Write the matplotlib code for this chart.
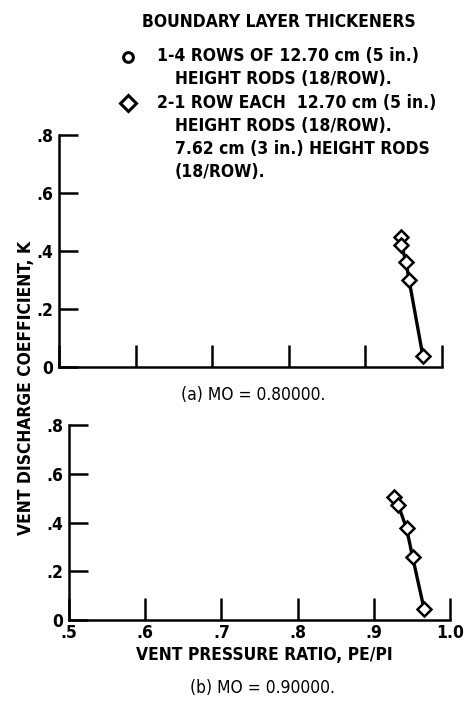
import matplotlib
matplotlib.use("Agg")
import matplotlib.pyplot as plt
from matplotlib.font_manager import FontProperties
from matplotlib.lines import Line2D

# ---- data -------------------------------------------------------------
# vent pressure ratio PE/PI and vent discharge coefficient K, config 2
pr_a = [0.946, 0.947, 0.953, 0.957, 0.975]
k_a = [0.449, 0.421, 0.363, 0.300, 0.038]

pr_b = [0.926, 0.932, 0.943, 0.951, 0.966]
k_b = [0.506, 0.472, 0.376, 0.257, 0.045]

x_ticks = [0.5, 0.6, 0.7, 0.8, 0.9, 1.0]
x_tick_labels = [".5", ".6", ".7", ".8", ".9", "1.0"]
y_ticks = [0.0, 0.2, 0.4, 0.6, 0.8]
y_tick_labels = ["0", ".2", ".4", ".6", ".8"]

legend_title = "BOUNDARY LAYER THICKENERS"
legend_1 = ["1-4 ROWS OF 12.70 cm (5 in.)", "HEIGHT RODS (18/ROW)."]
legend_2 = ["2-1 ROW EACH  12.70 cm (5 in.)", "HEIGHT RODS (18/ROW).",
            "7.62 cm (3 in.) HEIGHT RODS", "(18/ROW)."]
caption_a = "(a) MO = 0.80000."
caption_b = "(b) MO = 0.90000."
x_title = "VENT PRESSURE RATIO, PE/PI"
y_title = "VENT DISCHARGE COEFFICIENT, K"


# ---- fonts: condensed DejaVu faces ---------------------------------------
def bold_font(size):
    return FontProperties(family="DejaVu Sans", weight="bold", stretch="condensed", size=size)


def reg_font(size):
    return FontProperties(family="DejaVu Sans", stretch="condensed", size=size)


W, H = 468, 708
fig = plt.figure(figsize=(W / 100, H / 100), dpi=100)


def fx(x):
    return x / W


def fy(y):
    return 1 - y / H


def panel(left, right, top, bottom, xs, ys, show_xlabels):
    ax = fig.add_axes([fx(left), fy(bottom), fx(right - left), (bottom - top) / H])
    ax.plot(xs, ys, color="black", lw=2.4, marker="D", ms=7.5,
            mfc="white", mec="black", mew=1.8, clip_on=False, zorder=3)
    ax.set_xlim(0.5, 1.0)
    ax.set_ylim(0.0, 0.8)
    for s in ("top", "right"):
        ax.spines[s].set_visible(False)
    for s in ("left", "bottom"):
        ax.spines[s].set_linewidth(1.8)
    ax.set_xticks(x_ticks)
    ax.set_yticks(y_ticks)
    ax.set_yticklabels(y_tick_labels, fontproperties=bold_font(12.5))
    if show_xlabels:
        ax.set_xticklabels(x_tick_labels, fontproperties=bold_font(12.5))
    else:
        ax.set_xticklabels([])
    ax.tick_params(axis="x", direction="in", length=16, width=1.8, pad=3)
    ax.tick_params(axis="y", direction="in", length=14, width=1.8, pad=4)
    ax.patch.set_alpha(0)
    return ax


panel(59, 442, 135, 367, pr_a, k_a, False)
panel(69, 450, 425, 620, pr_b, k_b, True)

# legend block
fs = 12.5
fig.text(fx(279), fy(22), legend_title, ha="center", va="center", fontproperties=bold_font(fs))
fig.add_artist(Line2D([fx(128)], [fy(57)], marker="o", ms=7, mfc="white",
                      mec="black", mew=2.2, transform=fig.transFigure))
fig.add_artist(Line2D([fx(128)], [fy(103)], marker="D", ms=8, mfc="white",
                      mec="black", mew=2.2, transform=fig.transFigure))
fig.text(fx(157), fy(56), legend_1[0], ha="left", va="center", fontproperties=bold_font(fs))
fig.text(fx(175), fy(79), legend_1[1], ha="left", va="center", fontproperties=bold_font(fs))
for i, line in enumerate(legend_2):
    x0 = 157 if i == 0 else 175
    fig.text(fx(x0), fy(103 + 23 * i), line, ha="left", va="center",
             fontproperties=bold_font(fs))

# axis titles and captions
fig.text(fx(26), fy(388), y_title, rotation=90, ha="center", va="center",
         fontproperties=bold_font(fs))
fig.text(fx(264), fy(655), x_title, ha="center", va="center", fontproperties=bold_font(fs))
fig.text(fx(253), fy(395), caption_a, ha="center", va="center", fontproperties=reg_font(12.5))
fig.text(fx(262), fy(688), caption_b, ha="center", va="center", fontproperties=reg_font(12.5))

fig.savefig("out.png", dpi=100, facecolor="white")
